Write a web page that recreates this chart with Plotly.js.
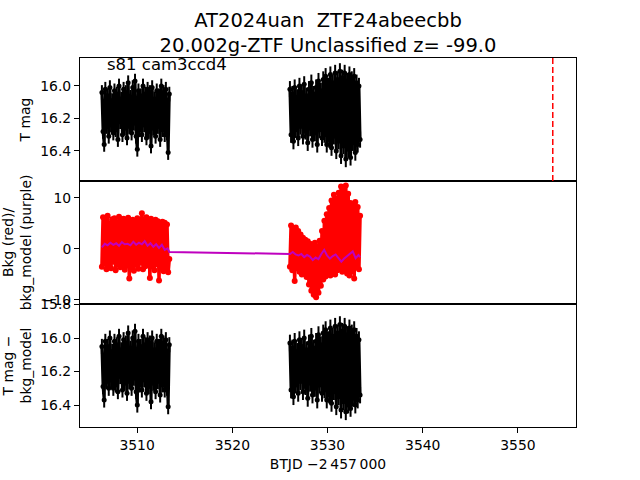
<!DOCTYPE html>
<html>
<head>
<meta charset="utf-8">
<script src="https://cdn.plot.ly/plotly-3.0.1.min.js"></script>
<style>html,body{margin:0;padding:0;background:#fff}#plot{width:640px;height:480px}</style>
</head>
<body>
<div id="plot"></div>
<script>
// ---- data ----
const seg1Time = [3506.30,3506.42,3506.54,3506.66,3506.78,3506.90,3507.02,3507.14,3507.26,3507.38,3507.50,3507.62,3507.74,3507.86,3507.98,3508.10,3508.22,3508.34,3508.46,3508.58,3508.70,3508.82,3508.94,3509.06,3509.18,3509.30,3509.42,3509.54,3509.66,3509.78,3509.90,3510.02,3510.14,3510.26,3510.38,3510.50,3510.62,3510.74,3510.86,3510.98,3511.10,3511.22,3511.34,3511.46,3511.58,3511.70,3511.82,3511.94,3512.06,3512.18,3512.30,3512.42,3512.54,3512.66,3512.78,3512.90,3513.02,3513.14,3513.26,3513.38];
const seg2Time = [3526.05,3526.17,3526.30,3526.42,3526.55,3526.67,3526.80,3526.92,3527.05,3527.17,3527.30,3527.42,3527.55,3527.67,3527.80,3527.92,3528.05,3528.17,3528.30,3528.42,3528.55,3528.67,3528.80,3528.92,3529.05,3529.17,3529.30,3529.42,3529.55,3529.67,3529.80,3529.92,3530.05,3530.17,3530.30,3530.42,3530.55,3530.67,3530.80,3530.92,3531.05,3531.17,3531.30,3531.42,3531.55,3531.67,3531.80,3531.92,3532.05,3532.17,3532.30,3532.42,3532.55,3532.67,3532.80,3532.92,3533.05,3533.17,3533.30,3533.42];

const tmagSeg1 = [16.04,16.28,16.36,16.02,16.25,16.06,16.31,16.01,16.24,16.09,16.29,16.03,16.27,16.05,16.33,16.00,16.22,16.08,16.30,16.02,16.26,16.04,16.32,15.98,16.25,16.07,16.29,16.01,16.23,15.97,16.31,16.39,16.03,16.27,16.06,16.30,16.00,16.24,16.05,16.32,16.02,16.28,16.04,16.37,16.01,16.26,16.08,16.31,16.03,16.25,16.06,16.33,16.00,16.27,16.04,16.30,16.02,16.29,16.41,16.05];
const tmagSeg2 = [16.02,16.30,16.05,16.34,16.01,16.27,16.07,16.32,16.00,16.25,16.04,16.31,15.99,16.28,16.06,16.35,16.02,16.26,15.98,16.33,16.05,16.29,16.01,16.36,15.97,16.27,16.03,16.32,15.96,16.30,15.94,16.36,16.00,16.33,15.93,16.38,15.98,16.31,15.92,16.40,15.96,16.34,15.91,16.43,15.95,16.37,15.92,16.45,15.97,16.39,15.93,16.44,15.96,16.35,15.94,16.41,15.98,16.36,16.00,16.33];
const tmagErrSeg1 = 0.045;
const tmagErrSeg2 = 0.05;

const bkgSeg1 = [-3.5,6.2,-2.8,5.5,-4.0,6.5,-3.2,5.0,-3.8,5.8,-2.5,6.0,-4.2,5.2,-3.0,6.3,-3.6,5.6,-2.9,5.9,-4.1,5.3,-3.3,6.1,-5.8,5.4,-3.7,5.7,-4.3,5.1,-3.1,6.0,-3.9,5.5,-2.7,7.0,-4.0,5.8,-3.4,6.2,-3.2,5.6,-5.7,5.9,-3.5,5.2,-4.2,5.7,-3.0,5.4,-6.2,5.0,-3.8,5.3,-4.4,5.1,-3.6,4.8,-4.6,-2.0];
const bkgSeg2 = [-3.5,4.6,-4.2,3.9,-6.3,4.2,-3.8,3.5,-4.5,2.8,-5.0,2.2,-4.8,1.8,-5.5,1.5,-7.0,1.0,-8.2,0.8,-9.0,1.2,-9.5,0.5,-8.6,1.6,-7.2,3.5,-6.0,5.5,-5.4,6.8,-4.8,8.0,-5.2,9.5,-4.6,10.6,-5.0,9.8,-4.2,11.0,-3.8,12.2,-4.5,11.5,-3.9,12.4,-4.8,10.8,-5.2,9.0,-4.4,8.6,-5.8,9.2,-3.6,8.2,-4.0,6.5];

const modelTime = [3506.30,3506.60,3506.90,3507.20,3507.50,3507.80,3508.10,3508.40,3508.70,3509.00,3509.30,3509.60,3509.90,3510.20,3510.50,3510.80,3511.10,3511.40,3511.70,3512.00,3512.30,3512.60,3512.90,3513.20,3513.38,
  3526.05,3526.35,3526.65,3526.95,3527.25,3527.55,3527.85,3528.15,3528.45,3528.75,3529.05,3529.35,3529.65,3529.95,3530.25,3530.55,3530.85,3531.15,3531.45,3531.75,3532.05,3532.35,3532.65,3532.95,3533.25,3533.42];
const bkgModel = [0.3,1.0,0.7,1.2,0.8,1.1,0.6,1.3,0.9,1.0,0.7,1.4,0.8,1.2,0.9,1.5,0.6,1.1,0.4,0.9,0.2,0.8,-0.2,0.1,-0.6,
  -1.0,-0.6,-1.1,-1.3,-1.0,-1.6,-1.2,-1.5,-2.2,-1.7,-2.0,-1.0,-0.2,-1.3,-1.9,-1.4,-1.1,-1.8,-2.5,-1.9,-1.4,-0.9,-0.5,-1.8,-1.2,-1.6];

const detrSeg1 = [16.05,16.29,16.37,16.02,16.26,16.05,16.30,16.00,16.25,16.08,16.30,16.02,16.28,16.04,16.32,15.99,16.23,16.07,16.31,16.01,16.27,16.03,16.33,15.97,16.26,16.06,16.30,16.00,16.24,15.96,16.32,16.40,16.02,16.28,16.05,16.31,15.99,16.25,16.04,16.33,16.01,16.29,16.03,16.38,16.00,16.27,16.07,16.32,16.02,16.26,16.05,16.34,15.99,16.28,16.03,16.31,16.01,16.30,16.41,16.04];
const detrSeg2 = [16.03,16.31,16.06,16.35,16.02,16.28,16.08,16.33,16.01,16.26,16.05,16.32,16.00,16.29,16.07,16.36,16.03,16.27,15.99,16.34,16.06,16.30,16.02,16.37,15.98,16.28,16.04,16.33,15.97,16.31,15.95,16.37,16.01,16.34,15.94,16.39,15.99,16.32,15.93,16.41,15.97,16.35,15.92,16.43,15.96,16.38,15.93,16.44,15.98,16.40,15.94,16.42,15.97,16.36,15.95,16.40,15.99,16.37,16.01,16.34];

const discoveryTime = 3553.66;
const titleLines = ["AT2024uan  ZTF24abeecbb", "20.002g-ZTF Unclassified z= -99.0"];
const sectorLabel = "s81 cam3ccd4";
const panel1Ticks = [16.0, 16.2, 16.4];
const panel2Ticks = [-10, 0, 10];
const panel3Ticks = [15.8, 16.0, 16.2, 16.4];
const xTicks = [3510, 3520, 3530, 3540, 3550];

// ---- styling ----
const FONT = "DejaVu Sans, sans-serif";
function errTrace(x, y, err, xa, ya) {
  return {x: x, y: y, xaxis: xa, yaxis: ya, type: 'scatter', mode: 'lines+markers',
    line: {color: '#000', width: 3}, marker: {color: '#000', size: 5},
    error_y: {type: 'constant', value: err, color: '#000', thickness: 2, width: 0},
    showlegend: false, hoverinfo: 'skip'};
}
function redTrace(x, y) {
  return {x: x, y: y, xaxis: 'x2', yaxis: 'y2', type: 'scatter', mode: 'lines+markers',
    line: {color: '#ff0000', width: 3.5}, marker: {color: '#ff0000', size: 6},
    showlegend: false, hoverinfo: 'skip'};
}
const data = [
  errTrace(seg1Time, tmagSeg1, tmagErrSeg1, 'x', 'y'),
  errTrace(seg2Time, tmagSeg2, tmagErrSeg2, 'x', 'y'),
  redTrace(seg1Time, bkgSeg1),
  redTrace(seg2Time, bkgSeg2),
  {x: modelTime, y: bkgModel, xaxis: 'x2', yaxis: 'y2', type: 'scatter', mode: 'lines',
   line: {color: '#bf00bf', width: 2}, showlegend: false, hoverinfo: 'skip'},
  errTrace(seg1Time, detrSeg1, tmagErrSeg1, 'x3', 'y3'),
  errTrace(seg2Time, detrSeg2, tmagErrSeg2, 'x3', 'y3')
];

const xr = [3504.0, 3556.1];
function xaxis(anchor, showLabels) {
  return {range: xr, anchor: anchor, showgrid: false, zeroline: false,
    showline: true, mirror: true, linecolor: '#000', linewidth: 1,
    ticks: showLabels ? 'outside' : '', ticklen: 5, tickwidth: 1, tickcolor: '#000',
    showticklabels: showLabels, tickvals: xTicks, tickfont: {size: 13.9, color: '#000'},
    automargin: false};
}
function yaxis(anchor, domain, range, ticks, fmt, title, standoff) {
  return {domain: domain, range: range, anchor: anchor, showgrid: false, zeroline: false,
    showline: true, mirror: true, linecolor: '#000', linewidth: 1,
    ticks: 'outside', ticklen: 5, tickwidth: 1, tickcolor: '#000',
    tickvals: ticks, tickformat: fmt, tickfont: {size: 13.9, color: '#000'},
    title: {text: title, font: {size: 13.9, color: '#000'}, standoff: standoff},
    automargin: false};
}
const xa3 = xaxis('y3', true);
xa3.title = {text: 'BTJD \u22122\u2009457\u2009000', font: {size: 13.9, color: '#000'}, standoff: 7};

const layout = {
  width: 640, height: 480,
  margin: {l: 80, r: 64, t: 58, b: 53},
  paper_bgcolor: '#fff', plot_bgcolor: '#fff',
  font: {family: FONT, color: '#000'},
  title: {text: titleLines.join('<br>'), font: {size: 19.5, color: '#000'},
    x: 0.5, xref: 'paper', xanchor: 'center', y: 0.944, yref: 'container', yanchor: 'middle'},
  xaxis: xaxis('y', false),
  xaxis2: Object.assign(xaxis('y2', false), {matches: 'x'}),
  xaxis3: Object.assign(xa3, {matches: 'x'}),
  yaxis: yaxis('x', [2/3, 1], [16.585, 15.828], panel1Ticks, '.1f', 'T mag', 6),
  yaxis2: yaxis('x2', [1/3, 2/3], [-10.8, 13.3], panel2Ticks, 'd', 'Bkg (red)/<br>bkg_model (purple)', 9),
  yaxis3: yaxis('x3', [0, 1/3], [16.531, 15.797], panel3Ticks, '.1f', 'T mag \u2212<br>bkg_model', 7),
  shapes: [{type: 'line', xref: 'x', yref: 'y domain', x0: discoveryTime, x1: discoveryTime, y0: 0, y1: 1,
    line: {color: '#ff0000', width: 1.5, dash: '6px,3px'}}],
  annotations: [{text: sectorLabel, xref: 'x domain', yref: 'y domain', x: 0.05, y: 0.95,
    xanchor: 'left', yanchor: 'middle', showarrow: false, font: {size: 16.5, color: '#000'}}]
};
Plotly.newPlot('plot', data, layout, {staticPlot: true, displayModeBar: false});
</script>
</body>
</html>
